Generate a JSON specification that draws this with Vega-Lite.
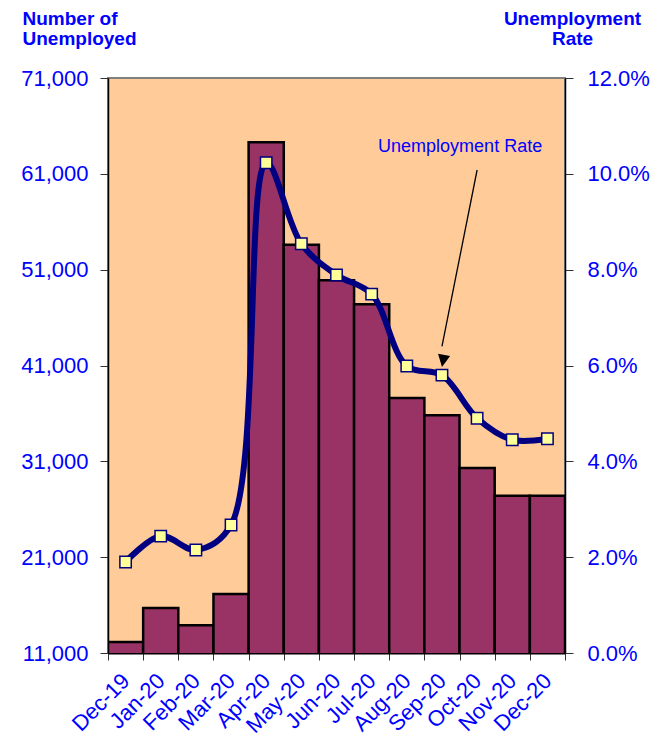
{
  "$schema": "https://vega.github.io/schema/vega-lite/v6.json",
  "autosize": "none",
  "width": 457,
  "height": 575,
  "padding": {"left": 108, "top": 78, "right": 98, "bottom": 102},
  "background": "white",
  "config": {
    "view": {"fill": "#FFCC99", "stroke": "#808080", "strokeWidth": 2},
    "font": "Liberation Sans",
    "axis": {"grid": false, "labelColor": "#0000FF", "labelFont": "Liberation Sans", "tickColor": "#333333", "domainColor": "#000000", "domainWidth": 1.5}
  },
  "data": {
    "values": [
      {"month": "Dec-19", "unemployed": 12150, "rate": 0.0190},
      {"month": "Jan-20", "unemployed": 15700, "rate": 0.0244},
      {"month": "Feb-20", "unemployed": 13900, "rate": 0.0215},
      {"month": "Mar-20", "unemployed": 17150, "rate": 0.0267},
      {"month": "Apr-20", "unemployed": 64300, "rate": 0.1023},
      {"month": "May-20", "unemployed": 53600, "rate": 0.0854},
      {"month": "Jun-20", "unemployed": 49900, "rate": 0.0789},
      {"month": "Jul-20", "unemployed": 47400, "rate": 0.0749},
      {"month": "Aug-20", "unemployed": 37600, "rate": 0.0599},
      {"month": "Sep-20", "unemployed": 35800, "rate": 0.0580},
      {"month": "Oct-20", "unemployed": 30300, "rate": 0.0490},
      {"month": "Nov-20", "unemployed": 27400, "rate": 0.0445},
      {"month": "Dec-20", "unemployed": 27400, "rate": 0.0447}
    ]
  },
  "encoding": {
    "x": {
      "field": "month", "type": "ordinal", "sort": null,
      "scale": {"paddingInner": 0, "paddingOuter": 0},
      "axis": {"title": null, "labelAngle": -45, "labelFontSize": 22, "labelAlign": "right", "labelBaseline": "middle", "labelPadding": 17, "labelOverlap": false, "tickBand": "extent", "tickSize": 7, "domainColor": "#000000", "domainWidth": 2}
    }
  },
  "layer": [
    {
      "mark": {"type": "bar", "fill": "#993366", "stroke": "#000000", "strokeWidth": 2.5, "clip": true},
      "encoding": {
        "y": {
          "field": "unemployed", "type": "quantitative",
          "scale": {"domain": [11000, 71000], "nice": false, "zero": false},
          "axis": {
            "values": [11000, 21000, 31000, 41000, 51000, 61000, 71000],
            "format": ",.0f", "labelFontSize": 22, "labelPadding": 12, "tickSize": 8,
            "title": ["Number of", "Unemployed"], "titleAngle": 0, "titleAlign": "left", "titleBaseline": "alphabetic",
            "titleX": -86, "titleY": -54, "titleFontSize": 19, "titleFontWeight": "bold", "titleColor": "#0000FF", "titleLineHeight": 20,
            "domainColor": "#000000"
          }
        }
      }
    },
    {
      "layer": [
        {
          "mark": {"type": "line", "color": "#000080", "strokeWidth": 6, "interpolate": "catmull-rom"},
          "encoding": {
            "y": {
              "field": "rate", "type": "quantitative",
              "scale": {"domain": [0, 0.12], "nice": false},
              "axis": {
                "orient": "right",
                "values": [0, 0.02, 0.04, 0.06, 0.08, 0.1, 0.12],
                "format": ".1%", "labelFontSize": 22, "labelPadding": 14, "tickSize": 8,
                "title": ["Unemployment", "Rate"], "titleAngle": 0, "titleAlign": "center", "titleBaseline": "alphabetic",
                "titleX": 7, "titleY": -54, "titleFontSize": 19, "titleFontWeight": "bold", "titleColor": "#0000FF", "titleLineHeight": 20,
                "domainColor": "#000000"
              }
            }
          }
        },
        {
          "mark": {"type": "point", "shape": "square", "filled": true, "fill": "#FFFF99", "stroke": "#000080", "strokeWidth": 1.5, "size": 130, "opacity": 1},
          "encoding": {"y": {"field": "rate", "type": "quantitative"}}
        },
        {
          "data": {"values": [{"label": "Unemployment Rate", "m": "Oct-20", "r": 0.1056}]},
          "mark": {"type": "text", "color": "#0000FF", "fontSize": 18, "dx": -17, "align": "center", "baseline": "middle"},
          "encoding": {"x": {"field": "m", "type": "ordinal"}, "y": {"field": "r", "type": "quantitative"}, "text": {"field": "label"}}
        },
        {
          "data": {"values": [{"m1": "Oct-20", "r1": 0.1008, "m2": "Sep-20", "r2": 0.0640}]},
          "mark": {"type": "rule", "color": "#000000", "strokeWidth": 1.3},
          "encoding": {"x": {"field": "m1", "type": "ordinal"}, "x2": {"field": "m2"}, "y": {"field": "r1", "type": "quantitative"}, "y2": {"field": "r2"}}
        },
        {
          "data": {"values": [{"m": "Sep-20", "r": 0.0597}]},
          "mark": {"type": "point", "shape": "M0,0L-0.5,-1L0.5,-1Z", "filled": true, "fill": "#000000", "size": 600, "angle": 10, "opacity": 1},
          "encoding": {"x": {"field": "m", "type": "ordinal"}, "y": {"field": "r", "type": "quantitative"}}
        }
      ]
    }
  ],
  "resolve": {"scale": {"y": "independent"}}
}
